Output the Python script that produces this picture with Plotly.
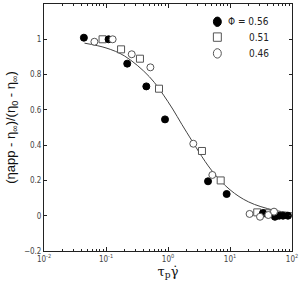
import plotly.graph_objects as go

# Data
x_056 = [0.044, 0.11, 0.22, 0.447, 0.895, 4.42, 8.83, 34.0, 53.0, 62.0, 71.6, 86.0]
y_056 = [1.009, 1.0, 0.862, 0.733, 0.546, 0.195, 0.123, 0.015, -0.006, 0.0, 0.0, 0.0]

x_051 = [0.088, 0.175, 0.353, 0.716, 3.53, 7.08, 27.5, 39.0]
y_051 = [1.0, 0.943, 0.89, 0.72, 0.367, 0.2, 0.019, 0.014]

x_046 = [0.065, 0.128, 0.26, 0.52, 2.56, 5.19, 20.7, 30.5, 41.5, 51.3]
y_046 = [0.986, 1.0, 0.915, 0.841, 0.408, 0.231, 0.01, -0.006, 0.004, 0.023]

# Fitted curve
x_fit = [0.045, 0.1, 0.2, 0.5, 1.0, 2.0, 5.0, 10.0, 20.0, 50.0, 100.0]
y_fit = [0.978, 0.951, 0.905, 0.788, 0.646, 0.473, 0.259, 0.147, 0.078, 0.032, 0.016]

legend_labels = ["\u03a6 = 0.56", "0.51", "0.46"]
x_tickvals = [0.01, 0.1, 1, 10, 100]
x_ticktext = ["10<sup>-2</sup>", "10<sup>-1</sup>", "10<sup>0</sup>", "10<sup>1</sup>", "10<sup>2</sup>"]

fig = go.Figure()
fig.add_trace(go.Scatter(x=x_fit, y=y_fit, mode="lines", line=dict(color="#444", width=1, shape="spline"),
                         hoverinfo="skip"))
fig.add_trace(go.Scatter(x=x_051, y=y_051, mode="markers",
                         marker=dict(symbol="square", size=7, color="white", line=dict(color="#555", width=1))))
fig.add_trace(go.Scatter(x=x_056, y=y_056, mode="markers",
                         marker=dict(symbol="circle", size=7, color="black", line=dict(color="black", width=1))))
fig.add_trace(go.Scatter(x=x_046, y=y_046, mode="markers",
                         marker=dict(symbol="circle", size=7, color="white", line=dict(color="#555", width=1))))

# Legend drawn manually
leg_font = dict(family="Liberation Sans Narrow, DejaVu Sans Condensed, sans-serif", size=10, color="#222")
ys = [0.928, 0.866, 0.80]
shapes = []
shapes.append(dict(type="circle", xref="paper", yref="paper", x0=0.683, x1=0.715, y0=ys[0]-0.019, y1=ys[0]+0.019,
                   fillcolor="black", line=dict(color="black", width=1)))
shapes.append(dict(type="rect", xref="paper", yref="paper", x0=0.683, x1=0.715, y0=ys[1]-0.017, y1=ys[1]+0.017,
                   fillcolor="white", line=dict(color="#555", width=1)))
shapes.append(dict(type="circle", xref="paper", yref="paper", x0=0.683, x1=0.715, y0=ys[2]-0.019, y1=ys[2]+0.019,
                   fillcolor="white", line=dict(color="#555", width=1)))
annotations = []
for lbl, yy in zip(legend_labels, ys):
    annotations.append(dict(text=lbl, xref="paper", yref="paper", x=0.915, y=yy, xanchor="right", yanchor="middle",
                            showarrow=False, font=leg_font))

axis_font = dict(family="Liberation Sans Narrow, DejaVu Sans Condensed, sans-serif", size=8, color="#444")
fig.update_layout(
    width=300, height=288,
    margin=dict(l=44, r=8, t=4, b=37),
    plot_bgcolor="white", paper_bgcolor="white",
    showlegend=False,
    shapes=shapes, annotations=annotations,
    xaxis=dict(type="log", range=[-2, 2], tickvals=x_tickvals, ticktext=x_ticktext, automargin=False,
               ticks="inside", ticklen=4, tickcolor="#222", showline=True, linecolor="#222", linewidth=1,
               mirror="ticks", showgrid=False, zeroline=False, tickfont=axis_font,
               minor=dict(ticks="inside", ticklen=2, tickcolor="#222", dtick="D1", showgrid=False),
               title=dict(text="\u03c4<sub>p</sub>\u03b3\u0307", standoff=2,
                          font=dict(family="DejaVu Serif, serif", size=13, color="#111"))),
    yaxis=dict(range=[-0.2, 1.2], dtick=0.2, ticks="inside", ticklen=3, tickcolor="#222", automargin=False,
               showline=True, linecolor="#222", linewidth=1, mirror="ticks", showgrid=False, zeroline=False,
               tickfont=axis_font,
               title=dict(text="(\u03b7app - \u03b7<sub>\u221e</sub>)/(\u03b7<sub>0</sub> - \u03b7<sub>\u221e</sub>)",
                          standoff=5, font=dict(family="Liberation Sans, sans-serif", size=13, color="#111"))),
)

fig.write_html("out.html", config={"displayModeBar": False},
               post_script="document.body.style.margin='0';")
